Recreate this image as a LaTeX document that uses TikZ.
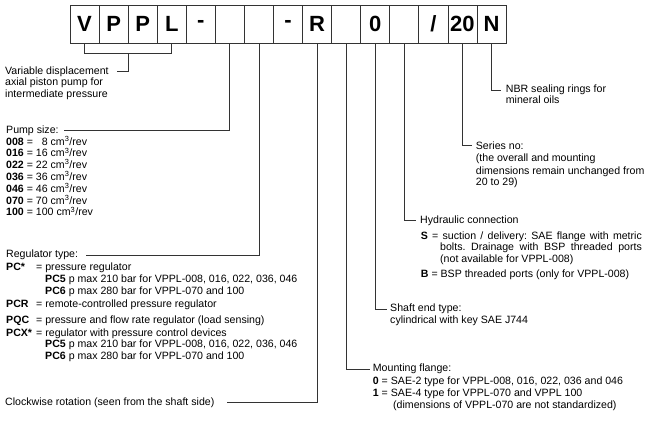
\documentclass[tikz,border=0pt]{standalone}
\usepackage{fontspec}
\setmainfont{Liberation Sans}
\usetikzlibrary{calc}
\definecolor{linegray}{rgb}{0.2,0.2,0.2}
\tikzset{wire/.style={line width=0.8pt, draw=linegray}}
\tikzset{codebox/.style={draw=linegray, line width=0.8pt, minimum height=38pt, minimum width=29.07pt, inner sep=0pt, font=\fontsize{22}{22}\selectfont\bfseries}}
\tikzset{txt/.style={anchor=base west, inner sep=0pt, font=\fontsize{10.6}{12}\selectfont}}
\newcommand{\cmrev}[1]{#1 cm\textsuperscript{3}/rev}
\frenchspacing

\begin{document}
\begin{tikzpicture}[x=1pt,y=-1pt]
\useasboundingbox (0,0) rectangle (656,422);
% code boxes
\foreach \t [count=\i] in {V,P,P,L,-,{},{},-,R,{},0,{},/,20,N}
  \node[codebox] (b\i) at ({84.53+29.07*(\i-1)},24) {\t};

% left side texts
\node[txt] (var) at (5,74.5) {Variable displacement};
\node[txt] at (5,86) {axial piston pump for};
\node[txt] at (5,97.5) {intermediate pressure};

\node[txt] (size) at (6,133.5) {Pump size:};
\node[txt] at (6,145.2) {\textbf{008} = \ \ \cmrev{8}};
\node[txt] at (6,157) {\textbf{016} = \cmrev{16}};
\node[txt] at (6,168.8) {\textbf{022} = \cmrev{22}};
\node[txt] at (6,180.6) {\textbf{036} = \cmrev{36}};
\node[txt] at (6,192.4) {\textbf{046} = \cmrev{46}};
\node[txt] at (6,204.2) {\textbf{070} = \cmrev{70}};
\node[txt] at (6,216) {\textbf{100} = \cmrev{100}};

\node[txt] (reg) at (6,257.8) {Regulator type:};
\node[txt] at (6,270.2) {\makebox[30pt][l]{\textbf{PC*}}= pressure regulator};
\node[txt] at (45,282.8) {\textbf{PC5} p max 210 bar for VPPL-008, 016, 022, 036, 046};
\node[txt] at (45,294.5) {\textbf{PC6} p max 280 bar for VPPL-070 and 100};
\node[txt] at (6,307.5) {\makebox[30pt][l]{\textbf{PCR}}= remote-controlled pressure regulator};
\node[txt] at (6,323.5) {\makebox[30pt][l]{\textbf{PQC}}= pressure and flow rate regulator (load sensing)};
\node[txt] at (6,336.2) {\makebox[30pt][l]{\textbf{PCX*}}= regulator with pressure control devices};
\node[txt] at (45,347.8) {\textbf{PC5} p max 210 bar for VPPL-008, 016, 022, 036, 046};
\node[txt] at (45,359.8) {\textbf{PC6} p max 280 bar for VPPL-070 and 100};

\node[txt] (rot) at (5,405.2) {Clockwise rotation (seen from the shaft side)};

% right side texts
\node[txt] (nbr) at (505.7,92.8) {NBR sealing rings for};
\node[txt] at (505.7,103.5) {mineral oils};

\node[txt] (series) at (475.7,149.5) {Series no:};
\node[txt] at (475.7,161.8) {(the overall and mounting};
\node[txt] at (475.7,174.2) {dimensions remain unchanged from};
\node[txt] at (475.7,185.8) {20 to 29)};

\node[txt] (hyd) at (420,223.5) {Hydraulic connection};
\node[txt] at (420.7,239.5) {\makebox[221pt][s]{\textbf{S} = suction / delivery: SAE flange with metric}};
\node[txt] at (440,250.8) {\makebox[201.7pt][s]{bolts. Drainage with BSP threaded ports}};
\node[txt] at (440,262.2) {(not available for VPPL-008)};
\node[txt] at (420.7,277.5) {\textbf{B} = BSP threaded ports (only for VPPL-008)};

\node[txt] (shaft) at (390,311.8) {Shaft end type:};
\node[txt] at (390,323.5) {cylindrical with key SAE J744};

\node[txt] (flange) at (372.7,371.8) {Mounting flange:};
\node[txt] at (372.7,384.5) {\textbf{0} = SAE-2 type for VPPL-008, 016, 022, 036 and 046};
\node[txt] at (372.7,396.2) {\textbf{1} = SAE-4 type for VPPL-070 and VPPL 100};
\node[txt] at (393,408.5) {(dimensions of VPPL-070 are not standardized)};

% connectors
\draw[wire] (b1.south) -- ++(0,10) -| (b4.south);
\coordinate (vj) at ($(b1.south)!0.5!(b4.south)+(0,10)$);
\draw[wire] (vj) |- ([xshift=8pt]var.east);
\draw[wire] (b6.south) |- ([xshift=5pt]size.east);
\draw[wire] (b7.south) |- ([xshift=8pt]reg.east);
\draw[wire] (b9.south) |- ([xshift=12pt]rot.east);
\draw[wire] (b10.south) |- ([xshift=-3pt]flange.west);
\draw[wire] (b11.south) |- ([xshift=-3pt]shaft.west);
\draw[wire] (b12.south) |- ([xshift=-4pt]hyd.west);
\draw[wire] (b14.south) |- ([xshift=-4pt]series.west);
\draw[wire] (b15.south) |- ([xshift=-5pt]nbr.west);
\end{tikzpicture}
\end{document}
